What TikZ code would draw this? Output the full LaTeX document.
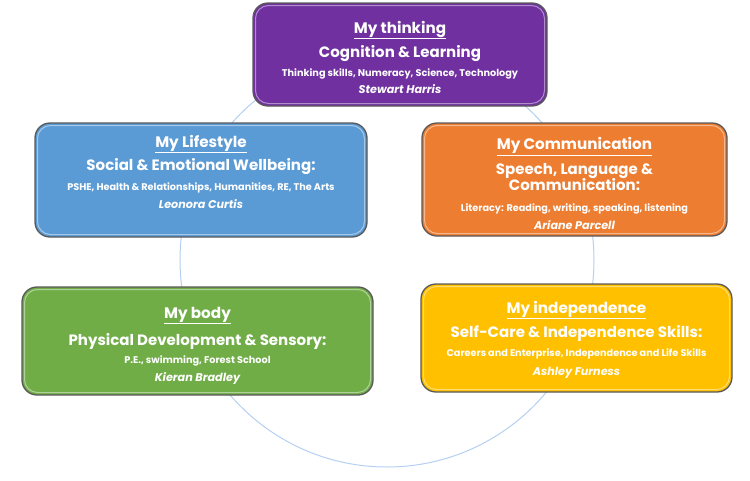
\documentclass[tikz,border=0pt]{standalone}
\usepackage{fontspec}
\setmainfont{Poppins}
\definecolor{cpurple}{HTML}{7030A0}
\definecolor{cblue}{HTML}{5B9BD5}
\definecolor{corange}{HTML}{ED7D31}
\definecolor{cgreen}{HTML}{70AD47}
\definecolor{cyellow}{HTML}{FFC000}
\definecolor{cborder}{HTML}{595959}
\definecolor{ccircle}{HTML}{B4D0F0}
\tikzset{
  box/.style={draw=cborder, line width=1.3pt, rounded corners=15pt, inner sep=0pt,
    path picture={\draw[white, opacity=.45, line width=1pt, rounded corners=13pt]
      ([shift={(2.5pt,-2.5pt)}]path picture bounding box.north west) rectangle
      ([shift={(-2.5pt,2.5pt)}]path picture bounding box.south east);}},
  ttl/.style={text=white, anchor=base, inner sep=0pt, font=\fontsize{15.2}{17}\selectfont\bfseries},
  sub/.style={text=white, anchor=base, inner sep=0pt, font=\fontsize{15}{17}\selectfont\bfseries},
  sml/.style={text=white, anchor=base, inner sep=0pt, font=\fontsize{9.7}{11}\selectfont\bfseries},
  nam/.style={text=white, anchor=base, inner sep=0pt, font=\fontsize{11.2}{13}\selectfont\bfseries\itshape},
}
\begin{document}
\begin{tikzpicture}[x=1pt,y=-1pt]
\useasboundingbox (0,0) rectangle (750,480);
\draw[ccircle, line width=1pt] (387,260) circle[radius=207pt];
% boxes
\node[box, fill=cpurple, minimum width=294pt, minimum height=103pt] (think) at (400,54.5) {};
\node[box, fill=cblue, minimum width=332pt, minimum height=114pt] (life) at (201,180) {};
\node[box, fill=corange, minimum width=305pt, minimum height=113pt] (comm) at (574.5,179.5) {};
\node[box, fill=cgreen, minimum width=351pt, minimum height=108pt] (body) at (197.5,341) {};
\node[box, fill=cyellow, minimum width=311pt, minimum height=108pt] (indep) at (576.5,338) {};
% thinking
\node[ttl] (think1) at (400,33) {\underline{My thinking}};
\node[sub] (think2) at (400,57) {Cognition \& Learning};
\node[sml] (think3) at (400,76.5) {Thinking skills, Numeracy, Science, Technology};
\node[nam] (think4) at (400,93) {Stewart Harris};
% lifestyle
\node[ttl] (life1) at (201,147) {\underline{My Lifestyle}};
\node[sub] (life2) at (201,170) {Social \& Emotional Wellbeing:};
\node[sml] (life3) at (201,190.5) {PSHE, Health \& Relationships, Humanities, RE, The Arts};
\node[nam] (life4) at (201,208) {Leonora Curtis};
% communication
\node[ttl] (comm1) at (574.5,149.5) {\underline{My Communication}};
\node[sub] (comm2) at (574.5,174.5) {Speech, Language \&};
\node[sub] (comm3) at (574.5,190.5) {Communication:};
\node[sml] (comm4) at (574.5,211.5) {Literacy: Reading, writing, speaking, listening};
\node[nam] (comm5) at (574.5,229.5) {Ariane Parcell};
% body
\node[ttl] (body1) at (197.5,318) {\underline{My body}};
\node[sub] (body2) at (197.5,345) {Physical Development \& Sensory:};
\node[sml] (body3) at (197.5,363.5) {P.E., swimming, Forest School};
\node[nam] (body4) at (197.5,381) {Kieran Bradley};
% independence
\node[ttl] (indep1) at (576.5,313) {\underline{My independence}};
\node[sub] (indep2) at (576.5,337) {Self-Care \& Independence Skills:};
\node[sml] (indep3) at (576.5,356.5) {Careers and Enterprise, Independence and Life Skills};
\node[nam] (indep4) at (576.5,375) {Ashley Furness};
\end{tikzpicture}
\end{document}
